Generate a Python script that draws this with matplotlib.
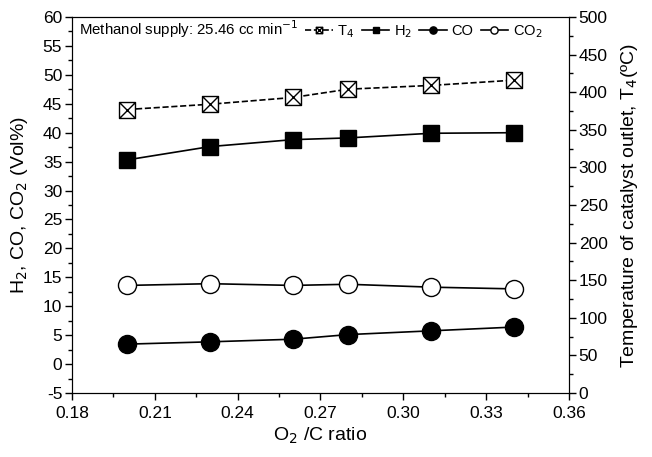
import numpy as np
import matplotlib
matplotlib.use("Agg")
import matplotlib.pyplot as plt
from matplotlib.path import Path
from matplotlib.ticker import MultipleLocator

plt.rcParams['font.family'] = ['Liberation Sans', 'DejaVu Sans']
plt.rcParams['axes.unicode_minus'] = False

# O2/C ratio
ratio = [0.20, 0.23, 0.26, 0.28, 0.31, 0.34]
# gas composition (Vol%)
h2 = [35.3, 37.6, 38.8, 39.1, 39.9, 40.0]
co = [3.45, 3.85, 4.3, 5.1, 5.75, 6.4]
co2 = [13.6, 13.9, 13.6, 13.8, 13.3, 13.0]
# catalyst outlet temperature T4 (degC)
t4 = [377, 384, 393, 404, 409, 416]

# square with a cross inside
box_x = Path([(-1, -1), (1, -1), (1, 1), (-1, 1), (-1, -1),
              (-1, -1), (1, 1), (-1, 1), (1, -1)],
             [Path.MOVETO, Path.LINETO, Path.LINETO, Path.LINETO, Path.CLOSEPOLY,
              Path.MOVETO, Path.LINETO, Path.MOVETO, Path.LINETO])

fig = plt.figure(figsize=(6.52, 4.57), dpi=100)
ax = fig.add_axes([0.1104, 0.14, 0.7623, 0.8228])
ax2 = ax.twinx()

l_t4, = ax2.plot(ratio, t4, 'k--', lw=1.2, marker=box_x, ms=11.5, mfc='white',
                 mec='black', mew=1.0, label='T$_4$')
l_h2, = ax.plot(ratio, h2, 'k-', lw=1.2, marker='s', ms=12, mfc='black', label='H$_2$')
l_co, = ax.plot(ratio, co, 'k-', lw=1.2, marker='o', ms=13, mfc='black', label='CO')
l_co2, = ax.plot(ratio, co2, 'k-', lw=1.2, marker='o', ms=13, mfc='white',
                 mec='black', mew=1.0, label='CO$_2$')

ax.set_xlim(0.18, 0.36)
ax.set_ylim(-5, 60)
ax2.set_ylim(0, 500)
ax.set_xticks(np.arange(0.18, 0.361, 0.03))
ax.xaxis.set_minor_locator(MultipleLocator(0.015))
ax.yaxis.set_major_locator(MultipleLocator(5))
ax.yaxis.set_minor_locator(MultipleLocator(2.5))
ax2.yaxis.set_major_locator(MultipleLocator(50))
ax2.yaxis.set_minor_locator(MultipleLocator(25))
ax.set_xticklabels(['%.2f' % v for v in np.arange(0.18, 0.361, 0.03)])

for a in (ax, ax2):
    a.tick_params(which='major', length=5, width=1, labelsize=12.5, pad=2)
    a.tick_params(which='minor', length=3, width=1)
ax.tick_params(axis='x', top=False, pad=4)

ax.set_xlabel('O$_2$ /C ratio', fontsize=14, labelpad=4)
ax.set_ylabel('H$_2$, CO, CO$_2$ (Vol%)', fontsize=14, labelpad=9)
ax2.set_ylabel('Temperature of catalyst outlet, T$_4$(\u00baC)', fontsize=14, labelpad=8)

ax.text(0.014, 0.952, 'Methanol supply: 25.46 cc min$^{-1}$', transform=ax.transAxes,
        fontsize=10.8, va='baseline', ha='left')
leg = ax.legend(handles=[l_t4, l_h2, l_co, l_co2], loc='center left',
                bbox_to_anchor=(0.455, 0.962), ncol=4, frameon=False, borderpad=0,
                fontsize=10.5, markerscale=0.4, handlelength=1.9,
                handletextpad=0.3, columnspacing=0.5)

fig.savefig('out.png', dpi=100)
